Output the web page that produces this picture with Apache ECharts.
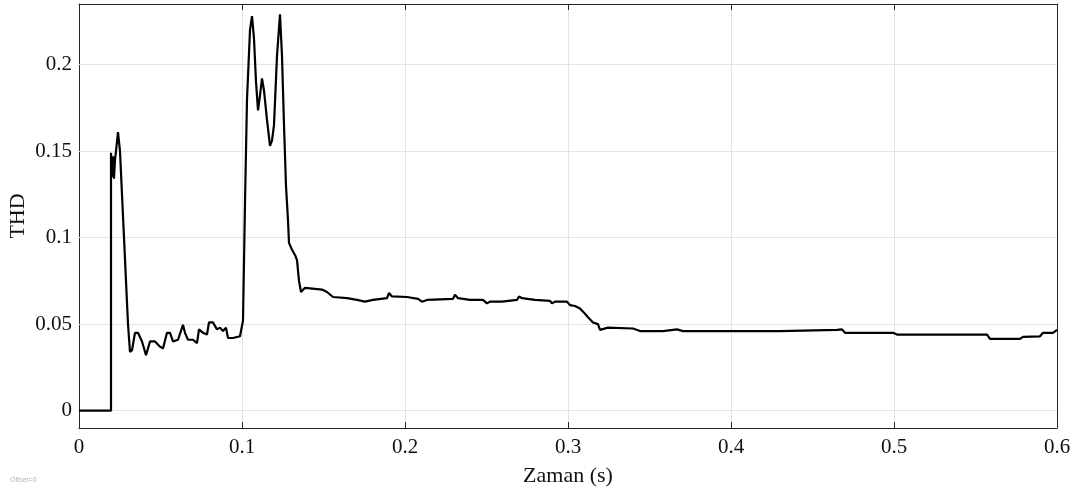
<!DOCTYPE html>
<html>
<head>
<meta charset="utf-8">
<script src="https://cdn.jsdelivr.net/npm/echarts@6/dist/echarts.min.js"></script>
<style>
  html, body { margin: 0; padding: 0; background: #fff; }
  #chart { width: 1074px; height: 490px; }
</style>
</head>
<body>
<div id="chart"></div>
<script>
// Simulated THD over time (s)
const timeValues = [
  0, 0.01963, 0.01963, 0.02025, 0.02086, 0.02117, 0.02147, 0.02209, 0.02270, 0.02393,
  0.02515, 0.02638, 0.02761, 0.02883, 0.03006, 0.03129, 0.03252, 0.03436, 0.03620, 0.03865,
  0.04110, 0.04356, 0.04663, 0.04969, 0.05153, 0.05399, 0.05583, 0.05767, 0.06074, 0.06380,
  0.06503, 0.06687, 0.06994, 0.07239, 0.07362, 0.07607, 0.07853, 0.07975, 0.08221, 0.08466,
  0.08650, 0.08834, 0.09018, 0.09141, 0.09448, 0.09877, 0.10061, 0.10184, 0.10307, 0.10491,
  0.10613, 0.10736, 0.10859, 0.10982, 0.11104, 0.11227, 0.11350, 0.11534, 0.11718, 0.11840,
  0.11963, 0.12147, 0.12331, 0.12454, 0.12577, 0.12699, 0.12822, 0.12883, 0.13067, 0.13252,
  0.13374, 0.13497, 0.13620, 0.13865, 0.14908, 0.15215, 0.15583, 0.16442, 0.17055, 0.17546,
  0.18037, 0.18896, 0.19018, 0.19202, 0.20123, 0.20798, 0.21043, 0.21350, 0.22945, 0.23067,
  0.23252, 0.23988, 0.24785, 0.25031, 0.25215, 0.25951, 0.26871, 0.26994, 0.27178, 0.27975,
  0.28896, 0.29018, 0.29202, 0.29939, 0.30123, 0.30429, 0.30736, 0.31043, 0.31227, 0.31534,
  0.31840, 0.31963, 0.32454, 0.33988, 0.34417, 0.35828, 0.36687, 0.37055, 0.43006, 0.46503,
  0.46810, 0.46994, 0.49939, 0.50184, 0.55706, 0.55890, 0.57730, 0.57914, 0.58957, 0.59141,
  0.59755, 0.6
];
const thdValues = [
  0, 0, 0.149, 0.140, 0.135, 0.147, 0.134, 0.145, 0.150, 0.161,
  0.150, 0.125, 0.100, 0.075, 0.050, 0.034, 0.035, 0.045, 0.045, 0.040,
  0.032, 0.040, 0.040, 0.037, 0.036, 0.045, 0.045, 0.040, 0.041, 0.0496,
  0.045, 0.041, 0.041, 0.039, 0.047, 0.045, 0.044, 0.051, 0.051, 0.047,
  0.048, 0.046, 0.048, 0.042, 0.042, 0.043, 0.052, 0.120, 0.180, 0.220,
  0.228, 0.215, 0.190, 0.1735, 0.182, 0.192, 0.185, 0.168, 0.153, 0.156,
  0.165, 0.205, 0.229, 0.205, 0.165, 0.130, 0.110, 0.097, 0.093, 0.090,
  0.087, 0.075, 0.0686, 0.071, 0.070, 0.0686, 0.0657, 0.065, 0.064, 0.063,
  0.064, 0.065, 0.068, 0.066, 0.0657, 0.0646, 0.063, 0.064, 0.0646, 0.067,
  0.065, 0.064, 0.064, 0.062, 0.063, 0.063, 0.064, 0.066, 0.065, 0.064,
  0.0635, 0.062, 0.063, 0.063, 0.061, 0.0605, 0.059, 0.056, 0.054, 0.051,
  0.050, 0.0467, 0.048, 0.0475, 0.046, 0.046, 0.047, 0.046, 0.046, 0.0467,
  0.047, 0.045, 0.045, 0.044, 0.044, 0.0415, 0.0415, 0.0427, 0.043, 0.045,
  0.045, 0.0467
];
const xTicks = [0, 0.1, 0.2, 0.3, 0.4, 0.5, 0.6];
const yTicks = [0, 0.05, 0.1, 0.15, 0.2];

const seriesData = timeValues.map((t, i) => [t, thdValues[i]]);

const axisColor = '#262626';
const gridColor = '#e3e3e3';
const font = '"Liberation Serif", "Times New Roman", serif';

const chart = echarts.init(document.getElementById('chart'), null, { renderer: 'canvas' });

const frameX = (pos, showLabels) => ({
  type: 'value',
  position: pos,
  min: xTicks[0],
  max: xTicks[xTicks.length - 1],
  interval: 0.1,
  axisLine: { show: true, onZero: false, lineStyle: { color: axisColor, width: 1 } },
  axisTick: { show: true, inside: true, length: 6, lineStyle: { color: axisColor } },
  axisLabel: {
    show: showLabels, color: '#111', fontFamily: font, fontSize: 21, margin: 9,
    formatter: v => String(+v.toFixed(2))
  },
  splitLine: { show: showLabels, lineStyle: { color: gridColor, width: 1 } },
  name: showLabels ? 'Zaman (s)' : '',
  nameLocation: 'middle',
  nameGap: 37,
  nameMoveOverlap: false,
  nameTextStyle: { color: '#111', fontFamily: font, fontSize: 22 }
});

const frameY = (pos, showLabels) => ({
  type: 'value',
  position: pos,
  min: -0.01,
  max: 0.235,
  axisLine: { show: true, onZero: false, lineStyle: { color: axisColor, width: 1 } },
  axisTick: { show: true, inside: true, length: 6, customValues: yTicks, lineStyle: { color: axisColor } },
  axisLabel: {
    show: showLabels, customValues: yTicks, color: '#111', fontFamily: font, fontSize: 21, margin: 7,
    formatter: v => String(+v.toFixed(3))
  },
  splitLine: { show: false },
  name: showLabels ? 'THD' : '',
  nameLocation: 'middle',
  nameGap: 50,
  nameMoveOverlap: false,
  nameTextStyle: { color: '#111', fontFamily: font, fontSize: 22 }
});

chart.setOption({
  animation: false,
  backgroundColor: '#fff',
  grid: { left: 79, right: 17, top: 4, bottom: 62, containLabel: false, outerBoundsMode: 'none' },
  xAxis: [frameX('bottom', true), frameX('top', false)],
  yAxis: [frameY('left', true), frameY('right', false)],
  graphic: [{
    type: 'text', left: 10, top: 477,
    style: { text: 'Offset=0', fill: '#b5b5b5', font: '7px sans-serif' }
  }],
  series: [
    {
      // horizontal grid lines at the labelled THD levels
      type: 'line', xAxisIndex: 0, yAxisIndex: 0, data: [], silent: true,
      markLine: {
        silent: true, symbol: 'none', label: { show: false },
        lineStyle: { color: gridColor, width: 1, type: 'solid' },
        data: yTicks.map(v => ({ yAxis: v }))
      }
    },
    {
      type: 'line',
      xAxisIndex: 0,
      yAxisIndex: 0,
      data: seriesData,
      showSymbol: false,
      lineStyle: { color: '#000', width: 2.2 },
      z: 5
    }
  ]
});
</script>
</body>
</html>
